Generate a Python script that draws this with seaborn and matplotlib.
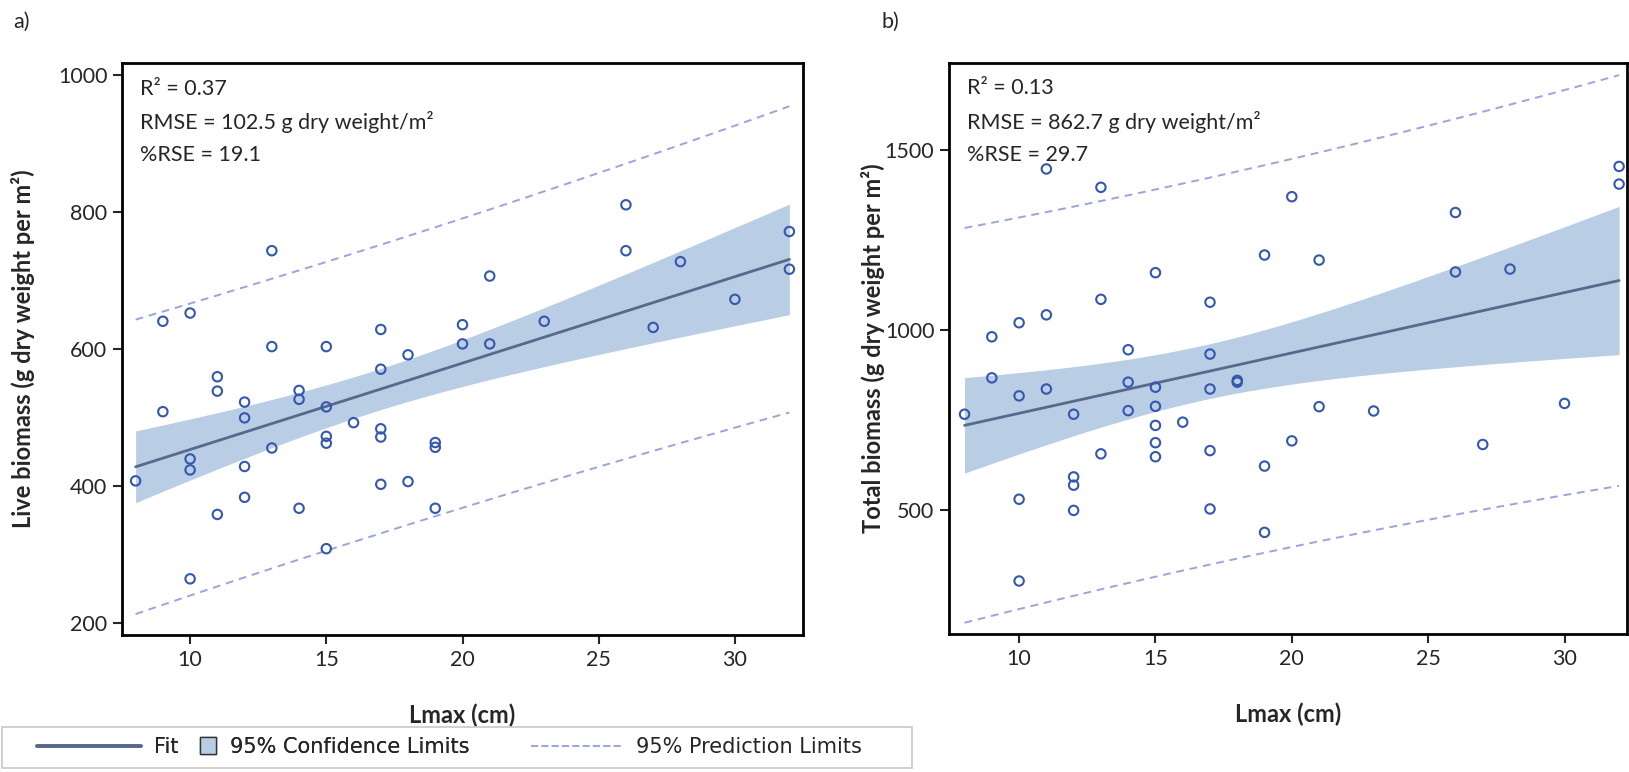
import numpy as np
import pandas as pd
import matplotlib
matplotlib.use('Agg')
import matplotlib.pyplot as plt
import seaborn as sns
from matplotlib.lines import Line2D
from matplotlib.patches import Patch, Rectangle
from matplotlib.legend_handler import HandlerBase

# Live biomass vs Lmax (panel a)
lmax_live = [8, 9, 9, 10, 10, 10, 10, 11, 11, 11, 12, 12, 12, 12, 13, 13, 13,
             14, 14, 14, 15, 15, 15, 15, 15, 16, 17, 17, 17, 17, 17, 18, 18,
             19, 19, 19, 20, 20, 21, 21, 23, 26, 26, 27, 28, 30, 32, 32]
live_biomass = [407, 640, 508, 652, 439, 423, 264, 559, 538, 358, 522, 499, 428, 383,
                743, 603, 455, 539, 526, 367, 603, 515, 472, 462, 308, 492,
                628, 570, 483, 471, 402, 591, 406, 463, 456, 367, 635, 607,
                706, 607, 640, 810, 743, 631, 727, 672, 771, 716]

# Total biomass vs Lmax (panel b)
lmax_total = [8, 9, 9, 10, 10, 10, 10, 11, 11, 11, 12, 12, 12, 12, 13, 13, 13,
              14, 14, 14, 15, 15, 15, 15, 15, 15, 16, 17, 17, 17, 17, 17, 18, 18,
              19, 19, 19, 20, 20, 21, 21, 23, 26, 26, 27, 28, 30, 32, 32]
total_biomass = [766, 981, 867, 1020, 817, 530, 303, 1447, 1042, 836, 766, 592, 569, 499,
                 1396, 1085, 656, 945, 855, 776, 1159, 841, 788, 735, 687, 648, 744,
                 1077, 933, 836, 665, 503, 860, 855, 1208, 622, 438, 1370, 692,
                 1194, 787, 775, 1326, 1161, 682, 1169, 796, 1454, 1405]

stats_live = ['R² = 0.37', 'RMSE = 102.5 g dry weight/m²', '%RSE = 19.1']
stats_total = ['R² = 0.13', 'RMSE = 862.7 g dry weight/m²', '%RSE = 29.7']

PT_COLOR = '#3457b0'
FIT_COLOR = '#58698b'
CI_COLOR = '#b9cde5'
PI_COLOR = '#98a6da'


def fit_bands(x, y):
    # simple OLS with 95% confidence and prediction limits
    x = np.asarray(x, float)
    y = np.asarray(y, float)
    n = len(x)
    b1, b0 = np.polyfit(x, y, 1)
    s = np.sqrt(np.sum((y - (b0 + b1 * x)) ** 2) / (n - 2))
    t = 2.012
    g = np.linspace(x.min(), x.max(), 100)
    sxx = np.sum((x - x.mean()) ** 2)
    fit = b0 + b1 * g
    se_c = s * np.sqrt(1 / n + (g - x.mean()) ** 2 / sxx)
    se_p = s * np.sqrt(1 + 1 / n + (g - x.mean()) ** 2 / sxx)
    return pd.DataFrame({'Lmax': g, 'fit': fit,
                         'clo': fit - t * se_c, 'chi': fit + t * se_c,
                         'plo': fit - t * se_p, 'phi': fit + t * se_p})


def panel(ax, x, y, ylabel, stats):
    bands = fit_bands(x, y)
    ax.fill_between(bands['Lmax'], bands['clo'], bands['chi'], color=CI_COLOR, lw=0, zorder=1)
    sns.lineplot(data=bands, x='Lmax', y='fit', ax=ax, color=FIT_COLOR, lw=2.0, zorder=2)
    for col in ['plo', 'phi']:
        sns.lineplot(data=bands, x='Lmax', y=col, ax=ax, color=PI_COLOR, lw=1.4,
                     linestyle=(0, (4, 3)), zorder=2)
    sns.scatterplot(x=x, y=y, ax=ax, marker='o', s=46, facecolors='none',
                    edgecolor=PT_COLOR, linewidth=1.5, zorder=3)
    ax.set_xlabel('Lmax (cm)', fontsize=17, fontweight='bold')
    ax.set_ylabel(ylabel, fontsize=17, fontweight='bold')
    ax.set_xticks([10, 15, 20, 25, 30])
    ax.tick_params(direction='out', length=6.5, width=1.5, labelsize=15.5, pad=4,
                   top=False, right=False)
    for sp in ax.spines.values():
        sp.set_visible(True)
        sp.set_linewidth(2.0)
        sp.set_color('black')
    for i, line in enumerate(stats):
        ax.text(0.027, 0.955 - i * 0.058, line, transform=ax.transAxes,
                fontsize=15.5, va='center', ha='left')
    ax.xaxis.set_label_coords(0.5, -0.119)


sns.set_style('ticks')
plt.rcParams['font.family'] = ['Lato', 'DejaVu Sans']

fig = plt.figure(figsize=(16.29, 7.72), dpi=100)
ax1 = fig.add_axes([122 / 1629, 1 - 635 / 772, 681 / 1629, 572 / 772])
ax2 = fig.add_axes([949 / 1629, 1 - 634.3 / 772, 678 / 1629, 571.6 / 772])

panel(ax1, lmax_live, live_biomass, 'Live biomass (g dry weight per m²)', stats_live)
ax1.set_xlim(7.5, 32.5)
ax1.set_ylim(182, 1017)
ax1.set_yticks([200, 400, 600, 800, 1000])
ax1.yaxis.set_label_coords(-0.128, 0.5)

panel(ax2, lmax_total, total_biomass, 'Total biomass (g dry weight per m²)', stats_total)
ax2.set_xlim(7.43, 32.29)
ax2.set_ylim(155, 1742)
ax2.set_yticks([500, 1000, 1500])
ax2.yaxis.set_label_coords(-0.095, 0.5)

fig.text(21 / 1629, 1 - 22 / 772, 'a)', fontsize=15.5, va='center', ha='center')
fig.text(890 / 1629, 1 - 22 / 772, 'b)', fontsize=15.5, va='center', ha='center')


# legend handles with long line samples
class LongLine(HandlerBase):
    def __init__(self, length):
        super().__init__()
        self.length = length

    def create_artists(self, legend, orig_handle, xdescent, ydescent, width, height, fontsize, trans):
        y0 = height / 2 - ydescent
        x1 = width - xdescent
        ln = Line2D([x1 - self.length * fontsize, x1], [y0, y0], color=orig_handle.get_color(),
                    lw=orig_handle.get_linewidth(), linestyle=orig_handle.get_linestyle(),
                    transform=trans)
        return [ln]


class SquarePatch(HandlerBase):
    def create_artists(self, legend, orig_handle, xdescent, ydescent, width, height, fontsize, trans):
        side = 0.8 * fontsize
        r = Rectangle((width - xdescent - side, height / 2 - ydescent - side / 2), side, side,
                      facecolor=orig_handle.get_facecolor(), edgecolor='#333333', lw=1.0,
                      transform=trans)
        return [r]


fit_h = Line2D([], [], color=FIT_COLOR, lw=2.6)
ci_h = Patch(facecolor=CI_COLOR)
pi_h = Line2D([], [], color=PI_COLOR, lw=1.4, linestyle=(0, (4, 3)))

leg_kw = dict(frameon=False, handlelength=1.0, handletextpad=0.65,
              borderpad=0, borderaxespad=0, loc='center left',
              prop={'family': 'DejaVu Sans', 'size': 15})
leg1 = fig.legend([fit_h, ci_h], ['Fit', '95% Confidence Limits'], ncol=2, columnspacing=0.8,
                  bbox_to_anchor=(120 / 1629, 1 - 747 / 772),
                  handler_map={fit_h: LongLine(5.0), ci_h: SquarePatch()}, **leg_kw)
leg2 = fig.legend([pi_h], ['95% Prediction Limits'],
                  bbox_to_anchor=(602 / 1629, 1 - 747 / 772),
                  handler_map={pi_h: LongLine(4.4)}, **leg_kw)
fig.add_artist(leg1)
fig.patches.append(Rectangle((2 / 1629, 1 - 768 / 772), 910 / 1629, 41 / 772,
                             transform=fig.transFigure, fill=False, edgecolor='#c8c8c8', lw=1.2))

fig.savefig('out.png', dpi=100)
